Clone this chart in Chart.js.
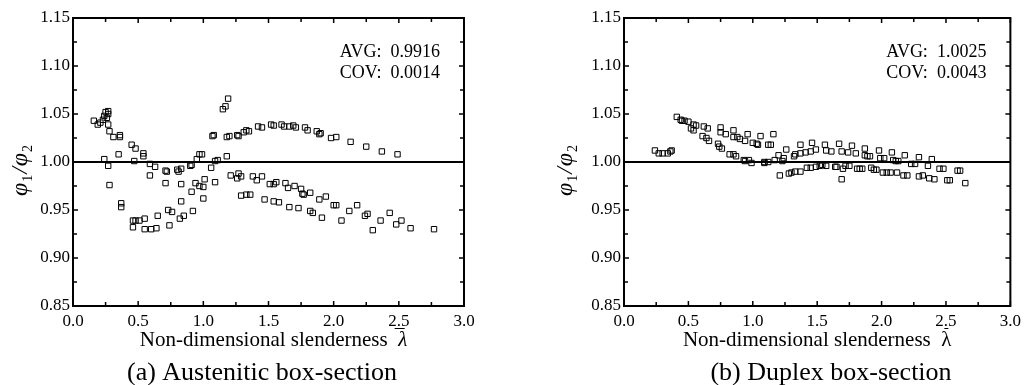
<!DOCTYPE html>
<html>
<head>
<meta charset="utf-8">
<script src="https://cdn.jsdelivr.net/npm/chart.js@4"></script>
<style>
  body { margin: 0; background: #fff; }
  .panel { position: absolute; top: 0; width: 513px; height: 385px; }
</style>
</head>
<body>
<div class="panel" style="left:0"><canvas id="chartA" width="513" height="385"></canvas></div>
<div class="panel" style="left:513px"><canvas id="chartB" width="513" height="385"></canvas></div>
<script>
const xTickLabels = ['0.0', '0.5', '1.0', '1.5', '2.0', '2.5', '3.0'];
const yTickLabels = ['0.85', '0.90', '0.95', '1.00', '1.05', '1.10', '1.15'];

// (a) Austenitic box-section
const austX = [0.16, 0.19, 0.21, 0.23, 0.24, 0.25, 0.27, 0.27, 0.26, 0.27, 0.28, 0.31, 0.36, 0.36,
  0.24, 0.27, 0.35, 0.28, 0.37, 0.37, 0.45, 0.48, 0.47, 0.54, 0.54, 0.59, 0.63, 0.59,
  0.46, 0.48, 0.51, 0.55, 0.46, 0.55, 0.60, 0.64, 0.65, 0.71, 0.72, 0.71, 0.73, 0.76, 0.74,
  0.80, 0.81, 0.83, 0.83, 0.83, 0.82, 0.85, 0.90, 0.91, 0.94, 0.97, 1.00, 1.01, 0.91, 1.00, 0.92,
  0.95, 0.97, 0.99, 1.06, 1.09, 1.09, 1.11, 1.07, 1.08, 1.15, 1.17, 1.19, 1.18, 1.20, 1.18,
  1.26, 1.27, 1.31, 1.33, 1.35, 1.42, 1.45, 1.52, 1.54, 1.21, 1.26, 1.27, 1.29, 1.38, 1.41,
  1.45, 1.51, 1.54, 1.29, 1.33, 1.36, 1.47, 1.54, 1.60, 1.62, 1.66, 1.69, 1.71, 1.78, 1.80,
  1.87, 1.89, 1.90, 1.98, 2.02, 2.13, 2.25, 2.37, 2.49, 1.56, 1.63, 1.65, 1.70, 1.75, 1.76,
  1.77, 1.82, 1.89, 1.94, 2.00, 2.02, 2.12, 2.18, 2.24, 2.26, 2.43, 2.48, 2.52, 2.59, 2.77,
  1.58, 1.66, 1.73, 1.82, 1.84, 1.91, 2.06, 2.30, 2.36];
const austY = [1.043, 1.039, 1.041, 1.044, 1.048, 1.052, 1.053, 1.050, 1.046, 1.039, 1.032, 1.026, 1.028, 1.026,
  1.003, 0.996, 1.008, 0.976, 0.957, 0.953, 1.018, 1.014, 1.001, 1.009, 1.006, 0.998, 0.995, 0.986,
  0.939, 0.939, 0.939, 0.941, 0.932, 0.930, 0.930, 0.931, 0.944, 0.991, 0.990, 0.978, 0.950, 0.948, 0.934,
  0.992, 0.990, 0.993, 0.977, 0.959, 0.941, 0.944, 0.996, 0.997, 0.978, 0.975, 0.974, 0.982, 0.969, 0.962, 0.949,
  1.003, 1.008, 1.008, 0.994, 0.979, 1.001, 1.002, 1.027, 1.028, 1.055, 1.058, 1.066, 1.026, 1.027, 1.006,
  1.028, 1.027, 1.031, 1.033, 1.032, 1.037, 1.036, 1.039, 1.038, 0.986, 0.983, 0.988, 0.985, 0.985, 0.981,
  0.985, 0.977, 0.977, 0.965, 0.966, 0.966, 0.961, 0.959, 1.039, 1.037, 1.037, 1.038, 1.036, 1.036, 1.033,
  1.032, 1.029, 1.030, 1.025, 1.026, 1.021, 1.016, 1.011, 1.008, 0.979, 0.978, 0.973, 0.975, 0.972, 0.967,
  0.966, 0.968, 0.961, 0.964, 0.955, 0.955, 0.949, 0.955, 0.944, 0.946, 0.947, 0.935, 0.939, 0.931, 0.930,
  0.958, 0.953, 0.952, 0.949, 0.947, 0.942, 0.939, 0.929, 0.939];

// (b) Duplex box-section
const duplexX = [0.24, 0.27, 0.30, 0.34, 0.36, 0.37, 0.41, 0.44, 0.45, 0.47, 0.50, 0.52, 0.54, 0.54, 0.56,
  0.61, 0.62, 0.64, 0.66, 0.65, 0.73, 0.74, 0.76, 0.75, 0.75, 0.79, 0.82, 0.85, 0.87, 0.85, 0.85, 0.88, 0.90,
  0.93, 0.94, 0.96, 0.94, 0.97, 0.99, 1.00, 1.03, 1.04, 1.06, 1.09, 1.09, 1.12, 1.17, 1.16, 1.12, 1.14,
  1.20, 1.24, 1.23, 1.26, 1.32, 1.33, 1.37, 1.37, 1.41, 1.45, 1.46, 1.49, 1.56,
  1.21, 1.28, 1.30, 1.33, 1.37, 1.42, 1.45, 1.49, 1.52, 1.54,
  1.57, 1.61, 1.67, 1.69, 1.74, 1.77, 1.80, 1.87, 1.87, 1.89, 1.91, 1.98, 1.99, 2.02, 2.08, 2.09, 2.11,
  2.13, 2.18, 2.23, 2.26, 2.29, 2.36, 2.39,
  1.57, 1.64, 1.65, 1.70, 1.72, 1.75, 1.69, 1.81, 1.83, 1.85, 1.92, 1.94, 1.96, 2.01, 2.04, 2.07, 2.12,
  2.17, 2.20, 2.29, 2.32, 2.37, 2.41, 2.45, 2.48, 2.51, 2.53, 2.59, 2.61, 2.65];
const duplexY = [1.012, 1.009, 1.009, 1.009, 1.011, 1.012, 1.047, 1.044, 1.043, 1.043, 1.042, 1.035, 1.033, 1.039, 1.038,
  1.027, 1.037, 1.025, 1.022, 1.035, 1.019, 1.016, 1.014, 1.036, 1.031, 1.029, 1.008, 1.008, 1.006, 1.033, 1.026, 1.026, 1.024,
  1.002, 1.001, 1.029, 1.022, 1.002, 0.999, 1.020, 1.019, 1.018, 1.027, 0.999, 1.000, 1.000, 1.002, 1.029, 1.018, 1.018,
  1.007, 1.004, 1.001, 1.013, 1.006, 1.008, 1.018, 1.009, 1.010, 1.011, 1.020, 1.013, 1.018,
  0.986, 0.988, 0.989, 0.990, 0.990, 0.994, 0.994, 0.995, 0.996, 0.997,
  1.012, 1.011, 1.019, 1.011, 1.010, 1.017, 1.009, 1.014, 1.007, 1.006, 1.006, 1.012, 1.004, 1.004, 1.010, 1.002, 1.001,
  1.001, 1.007, 0.998, 0.998, 1.005, 0.996, 1.003,
  0.996, 0.995, 0.995, 0.993, 0.996, 0.996, 0.982, 0.993, 0.993, 0.993, 0.994, 0.992, 0.992, 0.989, 0.989, 0.989, 0.989,
  0.986, 0.986, 0.985, 0.986, 0.983, 0.982, 0.993, 0.993, 0.981, 0.981, 0.991, 0.991, 0.978];

const serif = "'Liberation Serif', 'Times New Roman', serif";

// box, inward ticks, reference line and all the texts around the plot
const decorations = {
  id: 'decorations',
  afterDraw(chart, args, opts) {
    const ctx = chart.ctx;
    const area = chart.chartArea;
    const xs = chart.scales.x;
    const ys = chart.scales.y;
    ctx.save();
    ctx.strokeStyle = '#000';
    ctx.fillStyle = '#000';

    // reference line at 1.00
    const y1 = ys.getPixelForValue(1);
    ctx.lineWidth = 2;
    ctx.beginPath();
    ctx.moveTo(area.left, y1);
    ctx.lineTo(area.right, y1);
    ctx.stroke();

    // ticks, pointing inside on all four sides
    ctx.lineWidth = 1.5;
    xs.ticks.forEach((t, i) => {
      const px = xs.getPixelForValue(t.value);
      const len = i % 2 === 0 ? 5 : 4;
      ctx.beginPath();
      ctx.moveTo(px, area.bottom); ctx.lineTo(px, area.bottom - len);
      ctx.moveTo(px, area.top); ctx.lineTo(px, area.top + len);
      ctx.stroke();
    });
    ys.ticks.forEach((t, i) => {
      const py = ys.getPixelForValue(t.value);
      const len = i % 2 === 0 ? 5 : 4;
      ctx.beginPath();
      ctx.moveTo(area.left, py); ctx.lineTo(area.left + len, py);
      ctx.moveTo(area.right, py); ctx.lineTo(area.right - len, py);
      ctx.stroke();
    });

    // frame
    ctx.lineWidth = 2;
    ctx.strokeRect(area.left, area.top, area.right - area.left, area.bottom - area.top);

    // AVG / COV
    ctx.font = '18px ' + serif;
    ctx.textAlign = 'right';
    ctx.textBaseline = 'alphabetic';
    ctx.fillText('AVG:  ' + opts.avg, area.right - 24, 57);
    ctx.fillText('COV:  ' + opts.cov, area.right - 24, 78);

    // y title: φ1/φ2
    ctx.save();
    ctx.translate(opts.yTitleX, 170);
    ctx.rotate(-Math.PI / 2);
    ctx.textAlign = 'left';
    const big = 'italic 24px ' + serif;
    const small = '14px ' + serif;
    const parts = [[big, 'φ', 0], [small, '1', 5], [big, '/', 0], [big, 'φ', 0], [small, '2', 5]];
    let w = 0;
    parts.forEach(p => { ctx.font = p[0]; w += ctx.measureText(p[1]).width + 1; });
    let cx = -w / 2;
    parts.forEach(p => {
      ctx.font = p[0];
      ctx.fillText(p[1], cx, 7 + p[2]);
      cx += ctx.measureText(p[1]).width + 1;
    });
    ctx.restore();

    // x title with barred lambda
    ctx.textAlign = 'left';
    const mid = (area.left + area.right) / 2 + opts.xTitleShift;
    const txt = 'Non-dimensional slenderness  ';
    ctx.font = '21px ' + serif;
    const tw = ctx.measureText(txt).width;
    ctx.font = (opts.lambdaItalic ? 'italic ' : '') + '21px ' + serif;
    const lw = ctx.measureText('λ').width;
    const sx = mid - (tw + lw) / 2;
    ctx.font = '21px ' + serif;
    ctx.fillText(txt, sx, 346);
    ctx.font = (opts.lambdaItalic ? 'italic ' : '') + '21px ' + serif;
    ctx.fillText('λ', sx + tw, 346);
    ctx.lineWidth = 1;
    ctx.beginPath();
    ctx.moveTo(sx + tw - opts.barLen + lw / 2, 328.5);
    ctx.lineTo(sx + tw + lw / 2 + 2, 328.5);
    ctx.stroke();

    // caption
    ctx.font = '26px ' + serif;
    ctx.textAlign = 'center';
    ctx.fillText(opts.caption, opts.captionX, 380);
    ctx.restore();
  }
};

function makeChart(id, xs, ys, padRight, yAxisWidth, opts) {
  const points = xs.map((x, i) => ({ x: x, y: ys[i] }));
  return new Chart(document.getElementById(id).getContext('2d'), {
    type: 'scatter',
    data: {
      datasets: [{
        data: points,
        pointStyle: 'rect',
        pointRadius: 3.8,
        pointBorderWidth: 1,
        pointBorderColor: '#000',
        pointBackgroundColor: 'rgba(255,255,255,0)'
      }]
    },
    options: {
      responsive: false,
      animation: false,
      devicePixelRatio: 1,
      layout: { padding: { left: 0, top: 18, right: padRight, bottom: 0 } },
      plugins: {
        legend: { display: false },
        tooltip: { enabled: false },
        decorations: opts
      },
      scales: {
        x: {
          type: 'linear',
          min: 0,
          max: 3,
          grid: { display: false, drawTicks: false },
          border: { display: false },
          ticks: {
            stepSize: 0.25,
            autoSkip: false,
            maxRotation: 0,
            padding: 5,
            color: '#000',
            font: { family: serif, size: 17 },
            callback: (v, i) => (i % 2 === 0 ? xTickLabels[i / 2] : '')
          },
          afterFit: s => { s.height = 79; }
        },
        y: {
          type: 'linear',
          min: 0.85,
          max: 1.15,
          grid: { display: false, drawTicks: false },
          border: { display: false },
          ticks: {
            stepSize: 0.025,
            autoSkip: false,
            padding: 3,
            color: '#000',
            font: { family: serif, size: 17 },
            callback: (v, i) => (i % 2 === 0 ? yTickLabels[i / 2] : '')
          },
          afterFit: s => { s.width = yAxisWidth; }
        }
      }
    },
    plugins: [decorations]
  });
}

makeChart('chartA', austX, austY, 49, 73, {
  avg: '0.9916', cov: '0.0014', yTitleX: 20, xTitleShift: 5, lambdaItalic: true, barLen: 8,
  caption: '(a) Austenitic box-section', captionX: 262
});
makeChart('chartB', duplexX, duplexY, 12, 111, {
  avg: '1.0025', cov: '0.0043', yTitleX: 52, xTitleShift: 0, lambdaItalic: false, barLen: 2,
  caption: '(b) Duplex box-section', captionX: 318
});
</script>
</body>
</html>
